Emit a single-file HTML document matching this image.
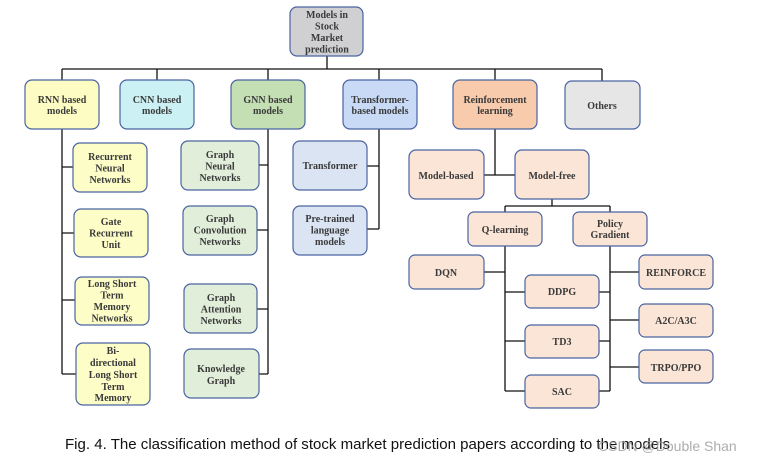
<!DOCTYPE html>
<html><head><meta charset="utf-8"><style>
body{margin:0;background:#fff;width:769px;height:462px;overflow:hidden}
svg text{font-family:"Liberation Serif",serif;font-weight:bold;font-size:10px;fill:#3a3a3a;text-anchor:middle}
</style></head><body>
<svg width="769" height="462" xmlns="http://www.w3.org/2000/svg">
<g stroke="#111" stroke-width="1.3" fill="none">
<path d="M327 56V69M62 69H602M62 69V80M157 69V80M268 69V80M379 69V80M495 69V80M602 69V81"/>
<path d="M62 129V374M62 167H73M62 233H74M62 300H75M62 374H76"/>
<path d="M268 129V374M259 165H268M257 230H268M257 309H268M259 374H268"/>
<path d="M379 129V229M367 166H379M367 229H379"/>
<path d="M495 129V175M484 175H515"/>
<path d="M552 199V206M505 206H610M505 206V212M610 206V212"/>
<path d="M505 246V391M484 272H505M505 292H525M505 341H525M505 391H525"/>
<path d="M610 246V391M610 272H639M599 292H610M610 320H639M599 341H610M610 367H639M599 391H610"/>
</g>
<g stroke="#4a64a0" stroke-width="1.2">
<rect x="290" y="7" width="73" height="49" rx="7" fill="#d0cfd1"/>
<rect x="25" y="80" width="74" height="49" rx="7" fill="#fdfdc3"/>
<rect x="120" y="80" width="74" height="49" rx="7" fill="#ccf1f5"/>
<rect x="231" y="80" width="74" height="49" rx="7" fill="#c5dfb5"/>
<rect x="343" y="80" width="74" height="49" rx="7" fill="#c8daf6"/>
<rect x="453" y="80" width="84" height="49" rx="7" fill="#f8cbad"/>
<rect x="565" y="81" width="75" height="48" rx="7" fill="#e6e6e6"/>
<g fill="#fdfdc8">
<rect x="73" y="143" width="74" height="49" rx="7"/>
<rect x="74" y="209" width="74" height="48" rx="7"/>
<rect x="75" y="277" width="74" height="48" rx="7"/>
<rect x="76" y="343" width="74" height="62" rx="7"/>
</g>
<g fill="#e1eed9">
<rect x="181" y="141" width="78" height="49" rx="7"/>
<rect x="183" y="206" width="74" height="49" rx="7"/>
<rect x="184" y="284" width="73" height="49" rx="7"/>
<rect x="184" y="349" width="75" height="49" rx="7"/>
</g>
<g fill="#dbe4f3">
<rect x="293" y="141" width="74" height="49" rx="7"/>
<rect x="293" y="206" width="74" height="49" rx="7"/>
</g>
<g fill="#fbe5d6">
<rect x="409" y="150" width="75" height="49" rx="7"/>
<rect x="515" y="150" width="74" height="49" rx="7"/>
<rect x="468" y="212" width="74" height="34" rx="6"/>
<rect x="573" y="212" width="74" height="34" rx="6"/>
<rect x="409" y="255" width="75" height="34" rx="6"/>
<rect x="525" y="275" width="74" height="33" rx="6"/>
<rect x="525" y="325" width="74" height="33" rx="6"/>
<rect x="525" y="375" width="74" height="33" rx="6"/>
<rect x="639" y="255" width="74" height="34" rx="6"/>
<rect x="639" y="304" width="74" height="33" rx="6"/>
<rect x="639" y="350" width="74" height="33" rx="6"/>
</g>
</g>
<text x="327" y="18">Models in<tspan x="327" dy="11.5">Stock</tspan><tspan x="327" dy="11.5">Market</tspan><tspan x="327" dy="11.5">prediction</tspan></text>
<text x="62" y="103">RNN based<tspan x="62" dy="11">models</tspan></text>
<text x="157" y="103">CNN based<tspan x="157" dy="11">models</tspan></text>
<text x="268" y="103">GNN based<tspan x="268" dy="11">models</tspan></text>
<text x="380" y="103">Transformer-<tspan x="380" dy="11">based models</tspan></text>
<text x="495" y="103">Reinforcement<tspan x="495" dy="11">learning</tspan></text>
<text x="602" y="109">Others</text>
<text x="110" y="160">Recurrent<tspan x="110" dy="11.5">Neural</tspan><tspan x="110" dy="11.5">Networks</tspan></text>
<text x="111" y="225">Gate<tspan x="111" dy="11.5">Recurrent</tspan><tspan x="111" dy="11.5">Unit</tspan></text>
<text x="112" y="287">Long Short<tspan x="112" dy="11.5">Term</tspan><tspan x="112" dy="11.5">Memory</tspan><tspan x="112" dy="11.5">Networks</tspan></text>
<text x="113" y="354">Bi-<tspan x="113" dy="12">directional</tspan><tspan x="113" dy="12">Long Short</tspan><tspan x="113" dy="12">Term</tspan><tspan x="113" dy="11">Memory</tspan></text>
<text x="220" y="158">Graph<tspan x="220" dy="11.5">Neural</tspan><tspan x="220" dy="11.5">Networks</tspan></text>
<text x="220" y="222">Graph<tspan x="220" dy="11.5">Convolution</tspan><tspan x="220" dy="11.5">Networks</tspan></text>
<text x="221" y="301">Graph<tspan x="221" dy="11.5">Attention</tspan><tspan x="221" dy="11.5">Networks</tspan></text>
<text x="221" y="372">Knowledge<tspan x="221" dy="12">Graph</tspan></text>
<text x="330" y="169">Transformer</text>
<text x="330" y="222">Pre-trained<tspan x="330" dy="11.5">language</tspan><tspan x="330" dy="11.5">models</tspan></text>
<text x="446" y="179">Model-based</text>
<text x="552" y="179">Model-free</text>
<text x="505" y="233">Q-learning</text>
<text x="610" y="227">Policy<tspan x="610" dy="11">Gradient</tspan></text>
<text x="446" y="276">DQN</text>
<text x="562" y="295">DDPG</text>
<text x="562" y="345">TD3</text>
<text x="562" y="395">SAC</text>
<text x="676" y="276">REINFORCE</text>
<text x="676" y="324">A2C/A3C</text>
<text x="676" y="371">TRPO/PPO</text>
<text x="65" y="449" textLength="605" lengthAdjust="spacingAndGlyphs" style="font-family:'Liberation Sans',sans-serif;font-weight:normal;font-size:14.5px;fill:#111;text-anchor:start">Fig. 4.  The classification method of stock market prediction papers according to the models</text>
<text x="598" y="451" style="font-family:'Liberation Sans',sans-serif;font-weight:normal;font-size:14px;fill:#999;fill-opacity:0.8;text-anchor:start">CSDN @Double Shan</text>
</svg>
</body></html>
